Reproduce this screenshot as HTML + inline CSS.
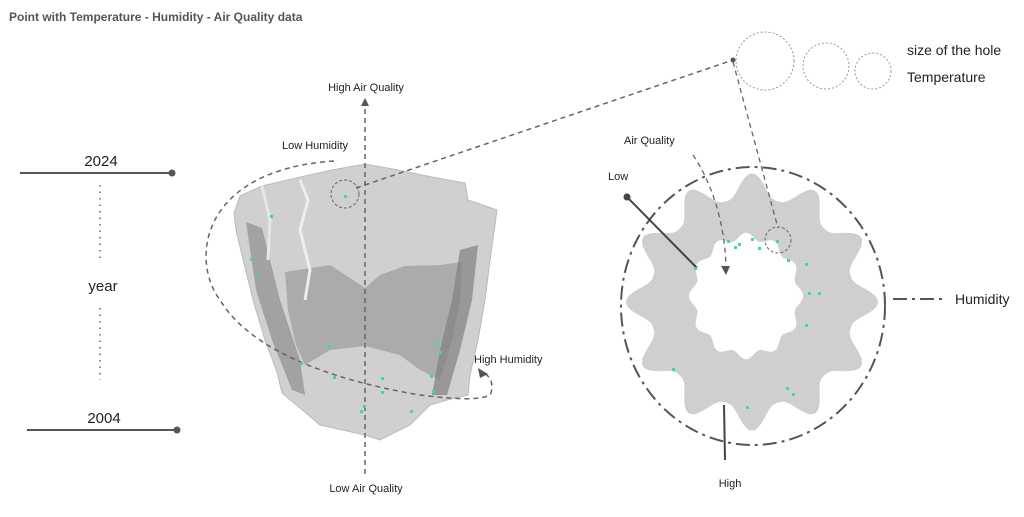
<!DOCTYPE html>
<html><head><meta charset="utf-8"><style>
html,body{margin:0;padding:0;background:#fff;}
svg{display:block;font-family:"Liberation Sans",sans-serif;}
</style></head><body>
<svg width="1024" height="517" viewBox="0 0 1024 517" xmlns="http://www.w3.org/2000/svg">
<text x="9" y="21" font-size="12" font-weight="bold" fill="#555">Point with Temperature - Humidity - Air Quality data</text>

<line x1="20" y1="173" x2="172" y2="173" stroke="#555" stroke-width="2"/>
<circle cx="172" cy="173" r="3.5" fill="#555"/>
<text x="101" y="166" font-size="15" text-anchor="middle" fill="#222">2024</text>
<line x1="100" y1="185" x2="100" y2="258" stroke="#666" stroke-width="1.5" stroke-dasharray="1.5,5"/>
<text x="103" y="291" font-size="15" text-anchor="middle" fill="#222">year</text>
<line x1="100" y1="308" x2="100" y2="380" stroke="#666" stroke-width="1.5" stroke-dasharray="1.5,5"/>
<text x="104" y="423" font-size="15" text-anchor="middle" fill="#222">2004</text>
<line x1="27" y1="430" x2="177" y2="430" stroke="#555" stroke-width="2"/>
<circle cx="177" cy="430" r="3.5" fill="#555"/>

<path d="M234,213 L240,196 L262,186 L296,178 L332,170 L365,164 L398,170 L432,177 L465,183 L468,200 L497,210 L494,232 L490,260 L485,300 L478,340 L470,375 L468,395 L447,400 L430,405 L410,425 L380,440 L365,435 L320,425 L300,408 L282,393 L277,372 L265,340 L253,300 L242,255 L236,230 Z" fill="#d0d0d0" stroke="#bbb" stroke-width="1"/>
<path d="M285,272 L330,265 L350,278 L365,288 L380,275 L405,266 L440,265 L462,262 L460,300 L452,340 L440,380 L420,370 L400,355 L365,346 L330,350 L305,365 L296,345 L288,310 Z" fill="#ababab"/>
<path d="M246,222 L262,228 L280,300 L300,360 L305,395 L292,390 L272,340 L256,290 Z" fill="#8f8f8f" opacity="0.7"/>
<path d="M460,250 L478,245 L472,300 L460,350 L447,395 L432,395 L440,350 L452,300 Z" fill="#808080" opacity="0.7"/>
<path d="M300,180 L308,200 L300,230 L310,270 L305,300" stroke="#eee" stroke-width="3" fill="none"/>
<path d="M262,186 L270,220 L268,260" stroke="#e6e6e6" stroke-width="3" fill="none"/>
<circle cx="345" cy="194" r="14" fill="none" stroke="#666" stroke-width="1" stroke-dasharray="3,2"/>

<line x1="365" y1="100" x2="365" y2="475" stroke="#666" stroke-width="1.5" stroke-dasharray="5,4"/>
<path d="M361,106 L365,98 L369,106 Z" fill="#555"/>
<text x="366" y="91" font-size="11" text-anchor="middle" fill="#222">High Air Quality</text>
<text x="366" y="492" font-size="11" text-anchor="middle" fill="#222">Low Air Quality</text>
<text x="315" y="149" font-size="11" text-anchor="middle" fill="#222">Low Humidity</text>
<text x="474" y="363" font-size="11" fill="#222">High Humidity</text>
<path d="M334,161 C200,170 190,260 220,300 C250,350 330,380 420,395 C460,400 480,400 490,395 C495,385 490,375 482,372" fill="none" stroke="#666" stroke-width="1.5" stroke-dasharray="5,4"/>
<path d="M478,368 L488,374 L480,378 Z" fill="#555"/>
<line x1="356" y1="188" x2="733" y2="60" stroke="#666" stroke-width="1.5" stroke-dasharray="5,4"/>
<circle cx="733" cy="60" r="2.5" fill="#555"/>

<g fill="#3ddc9a">
<rect x="344" y="195" width="3" height="3"/><rect x="270" y="215" width="3" height="3"/><rect x="250" y="258" width="3" height="3"/><rect x="257" y="275" width="3" height="3"/><rect x="328" y="345" width="3" height="3"/><rect x="300" y="362" width="3" height="3"/><rect x="333" y="376" width="3" height="3"/><rect x="381" y="377" width="3" height="3"/><rect x="381" y="391" width="3" height="3"/><rect x="363" y="405" width="3" height="3"/><rect x="360" y="410" width="3" height="3"/><rect x="410" y="410" width="3" height="3"/><rect x="436" y="342" width="3" height="3"/><rect x="439" y="351" width="3" height="3"/><rect x="430" y="375" width="3" height="3"/><rect x="432" y="390" width="3" height="3"/>
</g>

<circle cx="765" cy="61" r="29" fill="none" stroke="#999" stroke-width="1" stroke-dasharray="2,2"/>
<circle cx="826" cy="66" r="23" fill="none" stroke="#999" stroke-width="1" stroke-dasharray="2,2"/>
<circle cx="873" cy="71" r="18" fill="none" stroke="#999" stroke-width="1" stroke-dasharray="2,2"/>
<text x="907" y="55" font-size="14" fill="#222">size of the hole</text>
<text x="907" y="82" font-size="14" fill="#222">Temperature</text>

<path id="ring" fill="#cfcfcf" fill-rule="evenodd" d=""/>
<ellipse cx="753" cy="306" rx="132" ry="139" fill="none" stroke="#555" stroke-width="2" stroke-dasharray="14,5,3,5"/>
<line x1="893" y1="299" x2="945" y2="299" stroke="#555" stroke-width="2" stroke-dasharray="14,5,3,5"/>
<text x="955" y="304" font-size="14" fill="#222">Humidity</text>
<line x1="627" y1="197" x2="697" y2="268" stroke="#444" stroke-width="2"/>
<circle cx="627" cy="197" r="3.5" fill="#444"/>
<text x="608" y="180" font-size="11" fill="#222">Low</text>
<line x1="724" y1="405" x2="725" y2="460" stroke="#444" stroke-width="2"/>
<text x="730" y="487" font-size="11" text-anchor="middle" fill="#222">High</text>
<text x="624" y="144" font-size="11" fill="#222">Air Quality</text>
<path d="M693,155 C710,180 725,220 726,268" fill="none" stroke="#666" stroke-width="1.3" stroke-dasharray="5,4"/>
<path d="M721,266 L726,275 L730,266 Z" fill="#555"/>
<line x1="733" y1="62" x2="778" y2="228" stroke="#666" stroke-width="1.3" stroke-dasharray="5,4"/>
<circle cx="778" cy="240" r="13" fill="none" stroke="#666" stroke-width="1" stroke-dasharray="3,2"/>
<g fill="#3ddc9a">
<rect x="727" y="240" width="3" height="3"/><rect x="734" y="246" width="3" height="3"/><rect x="738" y="243" width="3" height="3"/><rect x="751" y="238" width="3" height="3"/><rect x="758" y="247" width="3" height="3"/><rect x="776" y="240" width="3" height="3"/><rect x="787" y="259" width="3" height="3"/><rect x="805" y="263" width="3" height="3"/><rect x="808" y="292" width="3" height="3"/><rect x="818" y="292" width="3" height="3"/><rect x="805" y="324" width="3" height="3"/><rect x="672" y="368" width="3" height="3"/><rect x="786" y="387" width="3" height="3"/><rect x="792" y="393" width="3" height="3"/><rect x="746" y="406" width="3" height="3"/><rect x="694" y="267" width="3" height="3"/>
</g>
<script>
(function(){
var cx=752,cy=302;
function outer(){var s="";for(var i=0;i<=720;i++){var t=i/720*2*Math.PI;var c=(1+Math.cos(12*t))/2;var r=102+24*Math.pow(c,1.4);s+=(i?"L":"M")+(cx+r*Math.sin(t)).toFixed(1)+","+(cy-r*Math.cos(t)*1.02).toFixed(1);}return s+"Z";}
function inner(){var s="";for(var i=0;i<=720;i++){var t=i/720*2*Math.PI;var c=(1+Math.cos(12*t+Math.PI))/2;var r=62-7*c;s+=(i?"L":"M")+(cx-6+r*Math.sin(t)*0.92).toFixed(1)+","+(cy-6-r*Math.cos(t)*1.02).toFixed(1);}return s+"Z";}
document.getElementById("ring").setAttribute("d",outer()+inner());
})();
</script>
</svg>
</body></html>
